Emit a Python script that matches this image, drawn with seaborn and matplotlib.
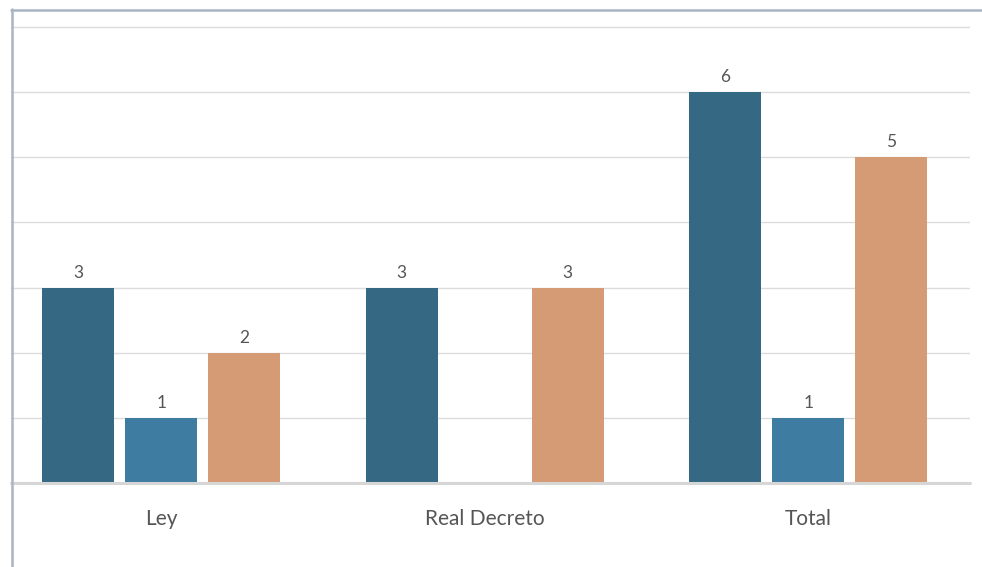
import matplotlib
matplotlib.use("Agg")
import matplotlib.pyplot as plt
import seaborn as sns
import pandas as pd
import numpy as np
from matplotlib.lines import Line2D

categories = ["Ley", "Real Decreto", "Total"]
series_names = ["Serie 1", "Serie 2", "Serie 3"]
serie1 = [3, 3, 6]
serie2 = [1, 0, 1]
serie3 = [2, 3, 5]
colors = ["#346883", "#3e7ca1", "#d49b74"]

rows = []
for name, vals in zip(series_names, [serie1, serie2, serie3]):
    for c, v in zip(categories, vals):
        rows.append({"cat": c, "serie": name, "val": v})
df = pd.DataFrame(rows)

sns.set_style("white")
plt.rcParams["font.family"] = ["Lato", "DejaVu Sans"]

W, H = 982, 567
fig = plt.figure(figsize=(W / 100, H / 100), dpi=100)
ax = fig.add_axes([11 / W, (H - 483) / H, (970 - 11) / W, (483 - 9) / H])

sns.barplot(data=df, x="cat", y="val", hue="serie", order=categories,
            hue_order=series_names, palette=colors, width=0.77, gap=0.133,
            ax=ax, legend=False, saturation=1, edgecolor="none")

ax.set_xlim(-0.464, 2.5)
ax.set_ylim(0, 7.276)
ax.set_yticks(range(1, 8))
ax.set_yticklabels([])
ax.tick_params(axis="y", length=0)
ax.grid(axis="y", color="#dcdcdc", linewidth=1)
ax.set_axisbelow(True)
for s in ax.spines.values():
    s.set_visible(False)
ax.axhline(0, color="#d6d6d6", linewidth=2.2, zorder=3, clip_on=False)

ax.set_xlabel("")
ax.set_ylabel("")
ax.tick_params(axis="x", length=0, pad=19, labelsize=15, labelcolor="#555555")

for cont in ax.containers:
    labels = [f"{int(b.get_height())}" if b.get_height() > 0 else "" for b in cont]
    ax.bar_label(cont, labels=labels, padding=5, fontsize=12.5, color="#555555")

# chart frame lines (left and top)
fig.add_artist(Line2D([11.5 / W, 11.5 / W], [0, (H - 9) / H], color="#a9b4c4", linewidth=1.8))
fig.add_artist(Line2D([11 / W, 1], [(H - 9.5) / H, (H - 9.5) / H], color="#a9b4c4", linewidth=1.8))

fig.savefig("out.png", dpi=100, facecolor="white")
